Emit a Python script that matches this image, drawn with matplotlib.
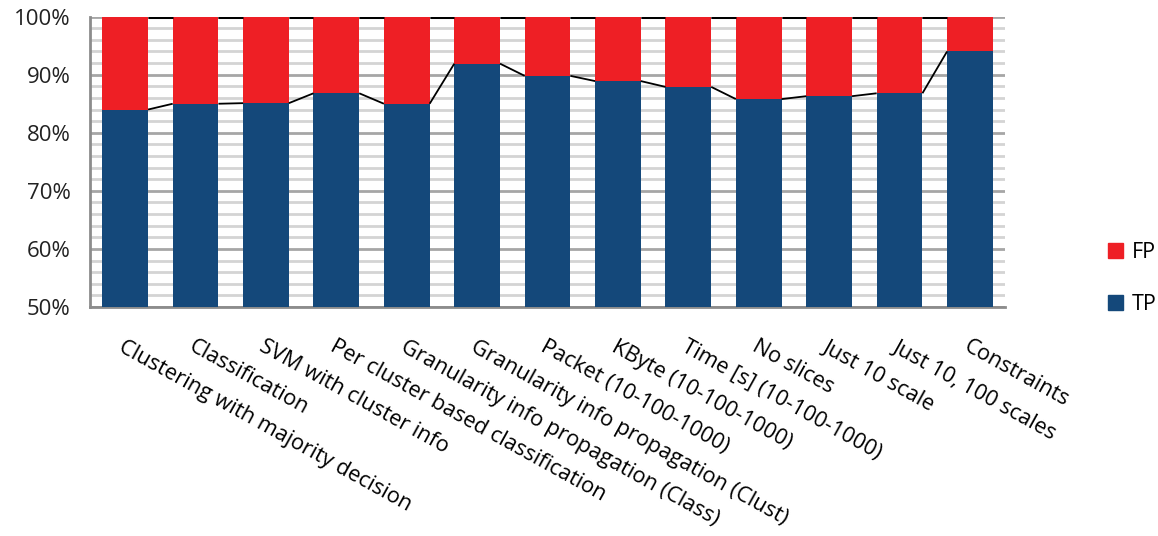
import matplotlib
matplotlib.use("Agg")
import matplotlib.pyplot as plt
import numpy as np
from matplotlib.ticker import MultipleLocator, FuncFormatter
from matplotlib.patches import Patch

categories = [
    "Clustering with majority decision",
    "Classification",
    "SVM with cluster info",
    "Per cluster based classification",
    "Granularity info propagation (Class)",
    "Granularity info propagation (Clust)",
    "Packet (10-100-1000)",
    "KByte (10-100-1000)",
    "Time [s] (10-100-1000)",
    "No slices",
    "Just 10 scale",
    "Just 10, 100 scales",
    "Constraints",
]
tp = [84.0, 85.0, 85.1, 86.8, 85.0, 91.9, 89.8, 88.9, 87.9, 85.8, 86.3, 86.8, 94.0]
fp = [100 - v for v in tp]

BLUE = "#14487a"
RED = "#ee1f25"

plt.rcParams["font.family"] = ["Open Sans", "DejaVu Sans"]

fig = plt.figure(figsize=(11.58, 5.36), dpi=100)
ax = fig.add_axes([0.0777, 0.4272, 0.7903, 0.5418])

x = np.arange(len(categories))
w = 0.65
ax.bar(x, tp, width=w, color=BLUE, zorder=3, label="TP")
ax.bar(x, fp, width=w, bottom=tp, color=RED, zorder=3, label="FP")

# series lines between bars
tops = [t + f for t, f in zip(tp, fp)]
for i in range(len(x) - 1):
    ax.plot([x[i] + w / 2, x[i + 1] - w / 2], [tp[i], tp[i + 1]],
            color="black", lw=1.3, zorder=4, solid_capstyle="butt")
    ax.plot([x[i] + w / 2, x[i + 1] - w / 2], [tops[i], tops[i + 1]],
            color="black", lw=2.2, zorder=4, solid_capstyle="butt")

ax.set_ylim(50, 100)
ax.set_xlim(-0.5, len(x) - 0.5)
ax.yaxis.set_major_locator(MultipleLocator(10))
ax.yaxis.set_minor_locator(MultipleLocator(2))
ax.yaxis.set_major_formatter(FuncFormatter(lambda v, p: f"{int(round(v))}%"))
ax.grid(which="major", axis="y", color="#a6a6a6", lw=2.0, zorder=1)
ax.grid(which="minor", axis="y", color="#d4d4d4", lw=2.0, zorder=1)

for s in ["top", "right"]:
    ax.spines[s].set_visible(False)
for s in ["left", "bottom"]:
    ax.spines[s].set_color("#8c8c8c")
    ax.spines[s].set_linewidth(2.0)

ax.tick_params(axis="y", which="both", length=0, pad=14, labelsize=16, labelcolor="#222222")
ax.tick_params(axis="x", length=0, pad=21)
ax.set_xticks(x)
ax.set_xticklabels(categories, rotation=-29, ha="left", va="top",
                   rotation_mode="anchor", fontsize=15.7, color="black")

handles = [Patch(color=RED, label="FP"), Patch(color=BLUE, label="TP")]
fig.legend(handles=handles, loc="center left", bbox_to_anchor=(0.957, 0.48),
           frameon=False, fontsize=15.5, handlelength=0.7, handleheight=0.7,
           handletextpad=0.4, labelspacing=1.45, borderaxespad=0, borderpad=0)

fig.savefig("out.png", dpi=100)
